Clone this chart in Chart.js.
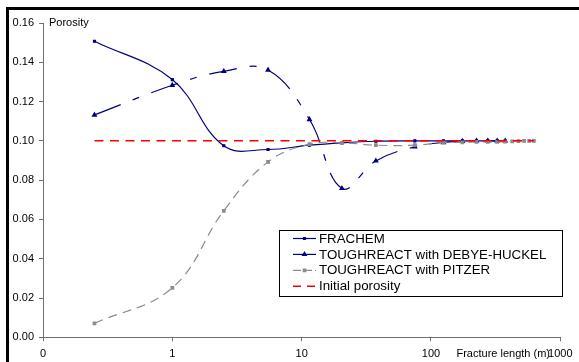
<!DOCTYPE html>
<html>
<head>
<meta charset="utf-8">
<script src="https://cdn.jsdelivr.net/npm/chart.js@4.4.1/dist/chart.umd.min.js"></script>
<style>
  html, body { margin: 0; padding: 0; background: #fff; }
  #wrap { position: relative; width: 579px; height: 362px; overflow: hidden; }
  #frame { position: absolute; left: 6px; top: 7px; width: 700px; height: 500px;
           border-left: 3px solid #000; border-top: 3px solid #000; pointer-events: none; }
  canvas { position: absolute; left: 0; top: 0; }
</style>
</head>
<body>
<div id="wrap">
  <canvas id="c" width="579" height="362"></canvas>
  <div id="frame"></div>
</div>
<script>
// ---- data ----
const fractureLength = [0.25, 1, 2.5, 5.5, 11.5, 20.5, 37.5, 75, 125, 175, 225, 275, 325, 375, 425, 475, 525, 575, 625];
const frachem = [0.1507, 0.1312, 0.0975, 0.0956, 0.0978, 0.0990, 0.0998, 0.1000, 0.1000, 0.1000, 0.1000, 0.1000, 0.1000, 0.1000];
const debyeHuckel = [0.1132, 0.1283, 0.1354, 0.1361, 0.1109, 0.0758, 0.0898, 0.0970, 0.0992, 0.0998, 0.1000, 0.1000, 0.1000, 0.1000];
const pitzer = [0.0071, 0.0252, 0.0644, 0.0893, 0.0983, 0.0990, 0.0978, 0.0978, 0.0992, 0.0992, 0.0995, 0.0995, 0.0995, 0.0996, 0.0998, 0.0999, 0.1000, 0.1000, 0.1000];
const initialX = [0.25, 625];
const initialPorosity = [0.1, 0.1];
const seriesNames = ['FRACHEM', 'TOUGHREACT with DEBYE-HUCKEL', 'TOUGHREACT with PITZER', 'Initial porosity'];
const xTickValues = [0.1, 1, 10, 100, 1000];
const xTickLabels = ['0', '1', '10', '100', '1000'];
const xTitle = 'Fracture length (m)';
const yTitle = 'Porosity';

const pts = (xs, ys) => ys.map((y, i) => ({ x: xs[i], y: y }));

const NAVY = '#000080', GRAY = '#8c8c8c', RED = '#ff0000';
const FONT = '"Liberation Sans", Arial, sans-serif';

const datasets = [
  { label: seriesNames[0], data: pts(fractureLength, frachem), borderColor: NAVY, backgroundColor: NAVY,
    borderWidth: 1.2, pointStyle: 'rect', pointRadius: 1.4, tension: 0.4, order: 4 },
  { label: seriesNames[1], data: pts(fractureLength, debyeHuckel), borderColor: NAVY, backgroundColor: NAVY,
    borderWidth: 1.2, borderDash: [28, 13, 7, 13], pointStyle: 'triangle', pointRadius: 2.2, tension: 0.4, order: 3 },
  { label: seriesNames[2], data: pts(fractureLength, pitzer), borderColor: GRAY, backgroundColor: GRAY,
    borderWidth: 1.2, borderDash: [9, 6], pointStyle: 'rect', pointRadius: 1.8, tension: 0.4, order: 2 },
  { label: seriesNames[3], data: pts(initialX, initialPorosity), borderColor: RED, backgroundColor: RED,
    borderWidth: 1.5, borderDash: [9, 6.5], pointRadius: 0, tension: 0, order: 1 }
];

const legendPlugin = {
  id: 'boxLegend',
  afterDatasetsDraw(chart) {
    const ctx = chart.ctx;
    ctx.save();
    const bx = 279.5, by = 230.5, bw = 283, bh = 66;
    ctx.fillStyle = '#fff';
    ctx.fillRect(bx, by, bw, bh);
    ctx.strokeStyle = '#000';
    ctx.lineWidth = 1;
    ctx.setLineDash([]);
    ctx.strokeRect(bx, by, bw, bh);
    ctx.font = '13.3px ' + FONT;
    ctx.textBaseline = 'middle';
    ctx.textAlign = 'left';
    chart.data.datasets.forEach((ds, i) => {
      const y = 238.5 + i * 15.9;
      ctx.strokeStyle = ds.borderColor;
      ctx.lineWidth = ds.borderWidth;
      ctx.setLineDash(i === 1 ? [] : (ds.borderDash || []));
      if (i === 2) ctx.setLineDash([8, 3]);
      if (i === 3) ctx.setLineDash([8, 6]);
      ctx.beginPath();
      ctx.moveTo(293, y);
      ctx.lineTo(316, y);
      ctx.stroke();
      ctx.setLineDash([]);
      if (ds.pointRadius > 0) {
        ctx.fillStyle = ds.backgroundColor;
        ctx.strokeStyle = ds.borderColor;
        Chart.helpers.drawPoint(ctx, { pointStyle: ds.pointStyle, radius: ds.pointRadius, borderWidth: 1, rotation: 0 }, 304.5, y);
      }
      ctx.fillStyle = '#000';
      ctx.fillText(ds.label, 319, y + 0.5);
    });
    ctx.restore();
  },
  afterDraw(chart) {
    const ctx = chart.ctx;
    ctx.save();
    ctx.fillStyle = '#000';
    ctx.font = '11px ' + FONT;
    ctx.textBaseline = 'middle';
    ctx.textAlign = 'left';
    ctx.fillText(yTitle, 49, chart.scales.y.getPixelForValue(0.16));
    ctx.textAlign = 'right';
    ctx.fillText(xTitle, 550, 353.5);
    ctx.restore();
  }
};

new Chart(document.getElementById('c'), {
  type: 'line',
  data: { datasets },
  options: {
    responsive: false,
    animation: false,
    devicePixelRatio: 1,
    layout: { padding: { left: 0, top: 23, right: 15, bottom: 0 } },
    plugins: { legend: { display: false }, tooltip: { enabled: false } },
    scales: {
      x: {
        type: 'logarithmic', min: 0.1, max: 1000,
        afterFit(s) { s.height = 24.7; },
        afterBuildTicks(s) { s.ticks = xTickValues.map(v => ({ value: v })); },
        ticks: {
          autoSkip: false, maxRotation: 0, padding: 6.5, color: '#000',
          font: { family: FONT, size: 11 },
          callback: (v) => { const i = xTickValues.indexOf(v); return i >= 0 ? xTickLabels[i] : ''; }
        },
        grid: { drawOnChartArea: false, drawTicks: true, tickLength: 4, color: '#707070' },
        border: { display: true, color: '#707070', width: 1 }
      },
      y: {
        type: 'linear', min: 0, max: 0.16,
        afterFit(s) { s.width = 43; },
        ticks: {
          stepSize: 0.02, padding: 5, color: '#000',
          font: { family: FONT, size: 11 },
          callback: (v) => Number(v).toFixed(2)
        },
        grid: { drawOnChartArea: false, drawTicks: true, tickLength: 4, color: '#707070' },
        border: { display: true, color: '#707070', width: 1 }
      }
    }
  },
  plugins: [legendPlugin]
});
</script>
</body>
</html>
